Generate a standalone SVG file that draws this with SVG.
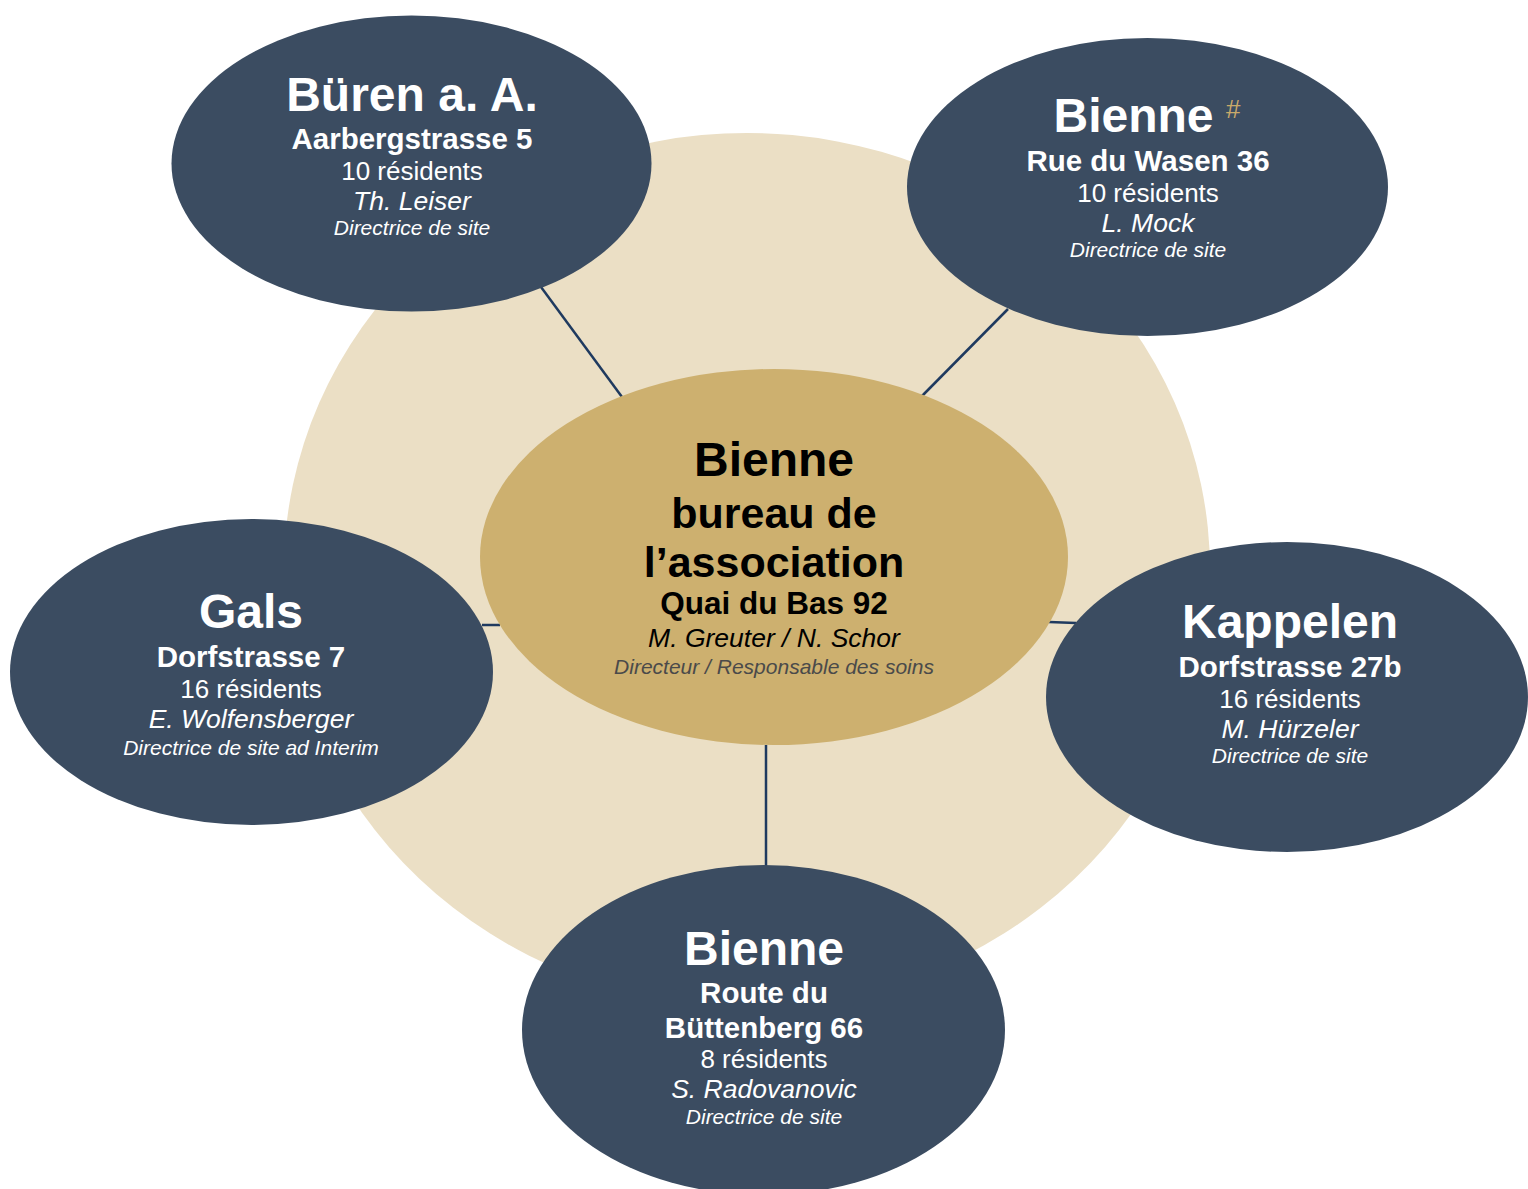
<svg xmlns="http://www.w3.org/2000/svg" width="1528" height="1189" viewBox="0 0 1528 1189">
<style>
text{font-family:"Liberation Sans",Arial,sans-serif;text-anchor:middle}
.site ellipse{fill:#3B4C61}
.site text{fill:#FFFFFF}
.t{font-size:48px;font-weight:bold}
.a{font-size:29.5px;font-weight:bold}
.r{font-size:26px}
.n{font-size:26.5px;font-style:italic}
.d{font-size:21px;font-style:italic}
.hub text{fill:#000000}
.conn line{stroke:#1F3A5F;stroke-width:2.5}
</style>
<rect width="1528" height="1189" fill="#FFFFFF"/>
<ellipse id="background" cx="747" cy="570" rx="463" ry="437" fill="#EBDFC5"/>
<g id="connectors" class="conn">
<line x1="541" y1="287" x2="622" y2="397"/>
<line x1="1008" y1="309" x2="922" y2="396"/>
<line x1="482" y1="625" x2="500" y2="625"/>
<line x1="1049" y1="622" x2="1076" y2="623"/>
<line x1="766" y1="745" x2="766" y2="867"/>
</g>
<g id="hub" class="hub">
<ellipse cx="774" cy="557" rx="294" ry="188" fill="#CDB06F"/>
<text x="774" y="476" class="t">Bienne</text>
<text x="774" y="528" style="font-size:43px;font-weight:bold">bureau de</text>
<text x="774" y="577" style="font-size:43px;font-weight:bold">l’association</text>
<text x="774" y="614" style="font-size:31.5px;font-weight:bold">Quai du Bas 92</text>
<text x="774" y="647" class="n">M. Greuter / N. Schor</text>
<text x="774" y="674" class="d" style="fill:#4A4A4A">Directeur / Responsable des soins</text>
</g>
<g id="node-bueren" class="site">
<ellipse cx="411.5" cy="163.5" rx="240" ry="148"/>
<text x="412" y="111" class="t">Büren a. A.</text>
<text x="412" y="149" class="a">Aarbergstrasse 5</text>
<text x="412" y="180" class="r">10 résidents</text>
<text x="412" y="210" class="n">Th. Leiser</text>
<text x="412" y="235" class="d">Directrice de site</text>
</g>
<g id="node-bienne-wasen" class="site">
<ellipse cx="1147.5" cy="187" rx="240.5" ry="149"/>
<text x="1133.5" y="132" class="t">Bienne</text>
<text x="1226" y="118" style="font-size:26px;text-anchor:start;fill:#C9A96A">#</text>
<text x="1148" y="171" class="a">Rue du Wasen 36</text>
<text x="1148" y="202" class="r">10 résidents</text>
<text x="1148" y="232" class="n">L. Mock</text>
<text x="1148" y="257" class="d">Directrice de site</text>
</g>
<g id="node-gals" class="site">
<ellipse cx="251.5" cy="672" rx="241.5" ry="153"/>
<text x="251" y="628" class="t">Gals</text>
<text x="251" y="667" class="a">Dorfstrasse 7</text>
<text x="251" y="698" class="r">16 résidents</text>
<text x="251" y="728" class="n">E. Wolfensberger</text>
<text x="251" y="755" class="d">Directrice de site ad Interim</text>
</g>
<g id="node-kappelen" class="site">
<ellipse cx="1287" cy="697" rx="241" ry="155"/>
<text x="1290" y="638" class="t">Kappelen</text>
<text x="1290" y="677" class="a">Dorfstrasse 27b</text>
<text x="1290" y="708" class="r">16 résidents</text>
<text x="1290" y="738" class="n">M. Hürzeler</text>
<text x="1290" y="763" class="d">Directrice de site</text>
</g>
<g id="node-bienne-buettenberg" class="site">
<ellipse cx="763.5" cy="1030" rx="241.5" ry="165"/>
<text x="764" y="965" class="t">Bienne</text>
<text x="764" y="1003" class="a">Route du</text>
<text x="764" y="1038" class="a">Büttenberg 66</text>
<text x="764" y="1068" class="r">8 résidents</text>
<text x="764" y="1098" class="n">S. Radovanovic</text>
<text x="764" y="1124" class="d">Directrice de site</text>
</g>
</svg>
